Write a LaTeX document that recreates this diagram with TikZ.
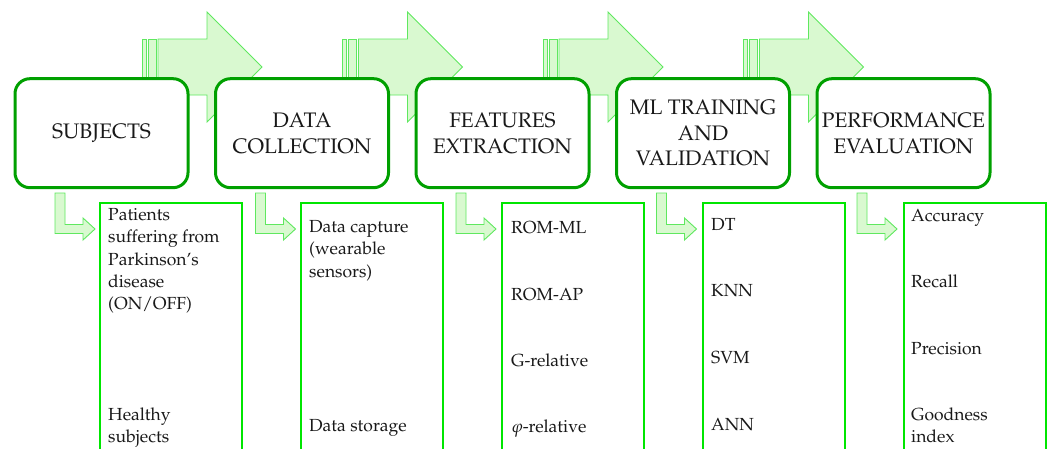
\documentclass[tikz,border=0pt]{standalone}
\usepackage[T1]{fontenc}
\usepackage{mathpazo}
\definecolor{boxgreen}{RGB}{0,160,0}
\definecolor{listgreen}{RGB}{0,230,0}
\definecolor{arrfill}{RGB}{217,249,208}
\definecolor{arrdraw}{RGB}{95,232,95}
\tikzset{
  stagebox/.style={draw=boxgreen, line width=3pt, rounded corners=15pt, fill=white,
    minimum width=173pt, minimum height=109pt, inner sep=0pt, align=center,
    font=\fontsize{21}{25.5}\selectfont, text=black!90},
  listbox/.style={draw=listgreen, line width=2.4pt, fill=white},
  bigarrow/.style={fill=arrfill, draw=arrdraw, line width=0.9pt},
  item/.style={anchor=base west, inner sep=0pt, align=left,
    font=\fontsize{17.5}{22.2}\selectfont, text=black!90},
}
\begin{document}
\begin{tikzpicture}[x=1pt,y=-1pt]
\useasboundingbox (0,0) rectangle (1049,448);
\begin{scope}
\clip (0,0) rectangle (1049,448);
% top block arrows (behind stage boxes)
\foreach \k in {0,1,2,3}{
  \begin{scope}[xshift=\k*200.5pt]
    \filldraw[bigarrow] (142,39) rectangle (146,96);
    \filldraw[bigarrow] (148,39) rectangle (156,96);
    \filldraw[bigarrow] (158,39) -- (207,39) -- (207,12) -- (262,67) -- (207,122) -- (207,95) -- (158,95) -- cycle;
  \end{scope}
}
% stage boxes
\node[stagebox] (s1) at (101.5,133.2) {SUBJECTS};
\node[stagebox] (s2) at (302,133.2) {DATA\\COLLECTION};
\node[stagebox] (s3) at (502.5,133.2) {FEATURES\\EXTRACTION};
\node[stagebox] (s4) at (703,133.2) {ML TRAINING\\AND\\VALIDATION};
\node[stagebox] (s5) at (903.5,133.2) {PERFORMANCE\\EVALUATION};
% list boxes
\foreach \k/\n in {0/l1,1/l2,2/l3,3/l4,4/l5}{
  \draw[listbox] (100+\k*201,203) rectangle (242+\k*201,470);
  \coordinate (\n) at (100+\k*201,203);
}
% bent arrows
\foreach \k in {0,1,2,3,4}{
  \begin{scope}[xshift=\k*200.5pt]
    \filldraw[bigarrow] (55,193) -- (65,193) -- (65,224.5) -- (83,224.5) -- (83,218) -- (95,229) -- (83,240) -- (83,233.5) -- (55,233.5) -- cycle;
  \end{scope}
}
% list items (base anchor = baseline of last line)
\node[item] (a1) at (108,309.5) {Patients\\suffering from\\Parkinson's\\disease\\(ON/OFF)};
\node[item] (a2) at (108,442.9) {Healthy\\subjects};
\node[item] (b1) at (309,277.1) {Data capture\\(wearable\\sensors)};
\node[item] (b2) at (309,431.7) {Data storage};
\node[item] (c1) at (511,233.3) {ROM-ML};
\node[item] (c2) at (511,300) {ROM-AP};
\node[item] (c3) at (511,366) {G-relative};
\node[item] (c4) at (511,432.7) {$\varphi$-relative};
\node[item] (d1) at (711,230) {DT};
\node[item] (d2) at (711,296.7) {KNN};
\node[item] (d3) at (711,363) {SVM};
\node[item] (d4) at (711,430) {ANN};
\node[item] (e1) at (911,221.7) {Accuracy};
\node[item] (e2) at (911,287) {Recall};
\node[item] (e3) at (911,354) {Precision};
\node[item] (e4) at (911,442.9) {Goodness\\index};
\end{scope}
\end{tikzpicture}
\end{document}
